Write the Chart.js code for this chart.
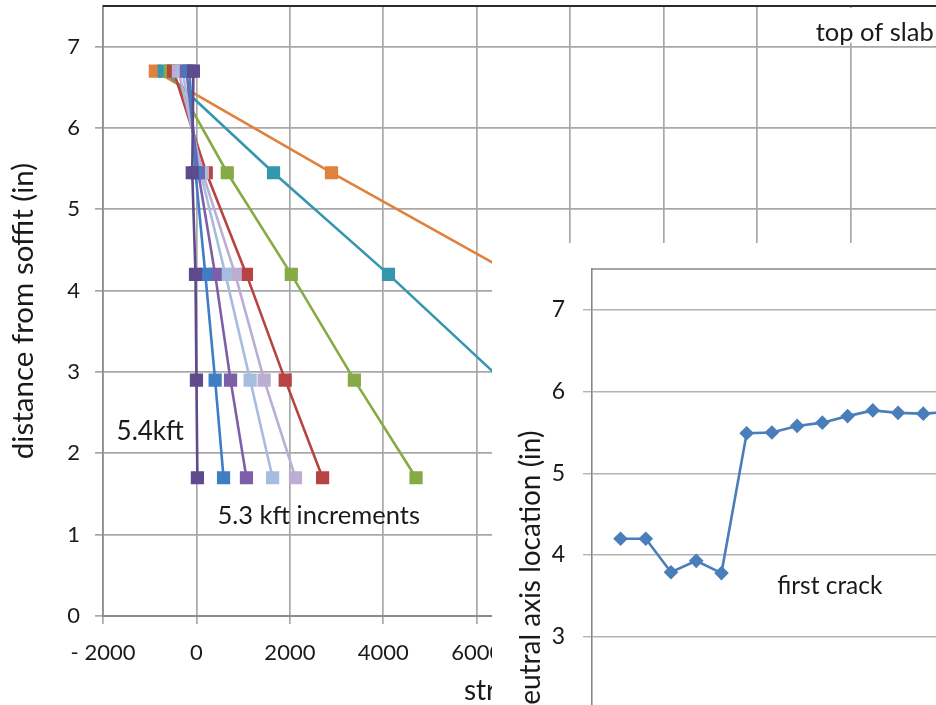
<!DOCTYPE html>
<html lang="en">
  <head>
    <meta charset="UTF-8" />
    <title>Strain profiles and neutral axis location</title>
    <script src="https://cdn.jsdelivr.net/npm/chart.js"></script>
    <style>
      html, body { margin: 0; padding: 0; background: #fff; width: 936px; height: 705px; overflow: hidden; }
      #mainBox { position: absolute; left: 0; top: 0; }
      #insetBox { position: absolute; left: 492px; top: 243px; background: #fff; }
    </style>
  </head>
  <body>
    <div id="mainBox"><canvas id="strainChart" width="1000" height="720"></canvas></div>
    <div id="insetBox"><canvas id="naChart" width="700" height="700"></canvas></div>

    <script>
      // gauge heights (in from soffit)
      const depths = [6.7, 5.45, 4.2, 2.9, 1.7];

      // strain at each gauge, one array per load step (top -> bottom)
      const strain1 = [-65, -90, -20, 0, 20];
      const strain2 = [-150, -20, 190, 400, 580];
      const strain3 = [-215, 40, 400, 730, 1070];
      const strain4 = [-300, 90, 620, 1150, 1630];
      const strain5 = [-385, 130, 830, 1450, 2120];
      const strain6 = [-490, 210, 1070, 1900, 2700];
      const strain7 = [-560, 660, 2030, 3380, 4700];
      const strain8 = [-690, 1650, 4110, 6540, 8780];
      const strain9 = [-880, 2890, 6790, 10840, 14580];

      const seriesNames = ["load 1", "load 2", "load 3", "load 4", "load 5", "load 6", "load 7", "load 8", "load 9"];
      const seriesColors = ["#5e4a8c", "#3f7ec4", "#7d5fa8", "#a7bde0", "#bcaed3", "#b84343", "#86ab46", "#3497ad", "#e0823d"];
      const allStrain = [strain1, strain2, strain3, strain4, strain5, strain6, strain7, strain8, strain9];

      // inset: neutral axis vs moment
      const naMoment = [5.4, 10.7, 16.0, 21.3, 26.6, 31.9, 37.2, 42.5, 47.8, 53.1, 58.4, 63.7, 69.0, 74.3];
      const naDepth = [4.2, 4.2, 3.79, 3.93, 3.78, 5.49, 5.5, 5.58, 5.62, 5.7, 5.77, 5.74, 5.73, 5.75];

      Chart.defaults.font.family = "Lato";
      Chart.defaults.color = "#1a1a1a";

      // text notes drawn in data coordinates
      const notesPlugin = {
        id: "notes",
        afterDraw(chart, args, opts) {
          const ctx = chart.ctx;
          const xs = chart.scales.x, ys = chart.scales.y;
          ctx.save();
          if (opts.topLine) {
            ctx.strokeStyle = "#2a2a2a";
            ctx.lineWidth = 2;
            ctx.beginPath();
            ctx.moveTo(chart.chartArea.left, chart.chartArea.top);
            ctx.lineTo(chart.chartArea.right, chart.chartArea.top);
            ctx.stroke();
          }
          (opts.items || []).forEach(n => {
            ctx.font = n.size + "px Lato";
            ctx.textAlign = n.align || "left";
            ctx.textBaseline = "middle";
            const px = xs.getPixelForValue(n.x), py = ys.getPixelForValue(n.y);
            if (n.bg) {
              const w = ctx.measureText(n.text).width;
              const x0 = n.align === "right" ? px - w - 4 : px - 4;
              ctx.fillStyle = "#fff";
              ctx.fillRect(x0, chart.chartArea.top + 2, w + 8, py - chart.chartArea.top + 8);
            }
            ctx.fillStyle = "#1a1a1a";
            ctx.fillText(n.text, px, py);
          });
          ctx.restore();
        }
      };

      const gridStyle = { color: "#a8a8a8", lineWidth: 1.7, tickLength: 8 };
      const noPadY = s => { s.paddingTop = 0; s.paddingBottom = 0; };

      new Chart(document.getElementById("strainChart"), {
        type: "scatter",
        data: {
          datasets: allStrain.map((s, i) => ({
            label: seriesNames[i],
            data: depths.map((d, j) => ({ x: s[j], y: d })),
            showLine: true,
            borderColor: seriesColors[i],
            backgroundColor: seriesColors[i],
            borderWidth: 2.6,
            pointStyle: "rect",
            pointRadius: 7.5,
            pointHoverRadius: 7.5,
            clip: false
          }))
        },
        options: {
          responsive: false,
          animation: false,
          layout: { autoPadding: false, padding: { left: 0, top: 6, right: 56, bottom: 0 } },
          plugins: {
            legend: { display: false },
            tooltip: { enabled: false },
            notes: {
              topLine: true,
              items: [
                { text: "5.4kft", x: -1710, y: 2.27, size: 26 },
                { text: "5.3 kft increments", x: 450, y: 1.23, size: 25.5 },
                { text: "top of slab", x: 15780, y: 7.17, size: 25.5, align: "right", bg: true }
              ]
            }
          },
          scales: {
            x: {
              type: "linear",
              min: -2000,
              max: 16000,
              afterFit: s => { s.height = 104; s.paddingLeft = 0; s.paddingRight = 0; },
              border: { color: "#8c8c8c", width: 2 },
              grid: gridStyle,
              ticks: {
                stepSize: 2000,
                padding: 16,
                font: { size: 22 },
                callback: v => (v < 0 ? "- " + Math.abs(v) : String(v))
              },
              title: { display: true, text: "strain (με)", font: { size: 28 }, padding: { top: 0, bottom: 12 } }
            },
            y: {
              type: "linear",
              min: 0,
              max: 7.5,
              afterFit: s => { s.width = 103; noPadY(s); },
              afterBuildTicks: s => { s.ticks = s.ticks.filter(t => Number.isInteger(t.value)); },
              border: { color: "#8c8c8c", width: 1.7 },
              grid: gridStyle,
              ticks: { stepSize: 1, padding: 15, font: { size: 22 } },
              title: { display: true, text: "distance from soffit (in)", font: { size: 29.5 }, padding: { top: 6, bottom: 0 } }
            }
          }
        },
        plugins: [notesPlugin]
      });

      new Chart(document.getElementById("naChart"), {
        type: "scatter",
        data: {
          datasets: [{
            label: "neutral axis",
            data: naMoment.map((m, i) => ({ x: m, y: naDepth[i] })),
            showLine: true,
            borderColor: "#4a7ebb",
            backgroundColor: "#4a7ebb",
            borderWidth: 2.6,
            pointStyle: "rectRot",
            pointRadius: 5.5,
            pointHoverRadius: 5.5
          }]
        },
        options: {
          responsive: false,
          animation: false,
          layout: { autoPadding: false, padding: { left: 0, top: 26, right: 26, bottom: 0 } },
          plugins: {
            legend: { display: false },
            tooltip: { enabled: false },
            notes: {
              topLine: false,
              items: [{ text: "first crack", x: 38.3, y: 3.62, size: 24.5 }]
            }
          },
          scales: {
            x: {
              type: "linear",
              min: -0.6,
              max: 120,
              afterFit: s => { s.height = 61; s.paddingLeft = 0; s.paddingRight = 0; },
              border: { color: "#878787", width: 1.6 },
              grid: { display: false },
              ticks: { stepSize: 20, font: { size: 22 } },
              title: { display: false }
            },
            y: {
              type: "linear",
              min: 0,
              max: 7.5,
              afterFit: s => { s.width = 100; noPadY(s); },
              afterBuildTicks: s => { s.ticks = s.ticks.filter(t => Number.isInteger(t.value)); },
              border: { color: "#878787", width: 1.6 },
              grid: { color: "#b3b3b3", lineWidth: 1.4, tickLength: 9 },
              ticks: { stepSize: 1, padding: 18, font: { size: 23 } },
              title: { display: true, text: "neutral axis location (in)", font: { size: 28 }, padding: { top: 22, bottom: 0 } }
            }
          }
        },
        plugins: [notesPlugin, {
          id: "insetFrame",
          afterDraw(chart) {
            const { ctx, chartArea: a } = chart;
            ctx.save();
            ctx.strokeStyle = "#878787";
            ctx.lineWidth = 1.6;
            ctx.beginPath();
            ctx.moveTo(a.left, a.top);
            ctx.lineTo(a.right, a.top);
            ctx.stroke();
            ctx.restore();
          }
        }]
      });
    </script>
  </body>
</html>
